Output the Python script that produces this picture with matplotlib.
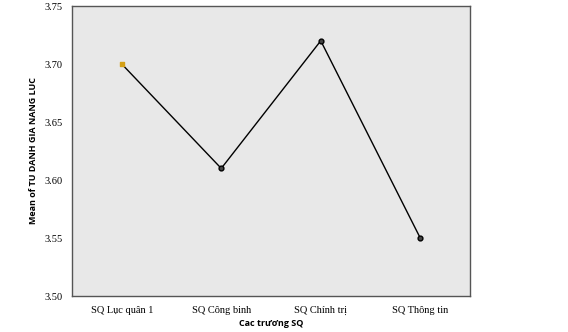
import matplotlib
matplotlib.use("Agg")
import matplotlib.pyplot as plt

schools = ["SQ Lục quân 1", "SQ Công binh", "SQ Chính trị", "SQ Thông tin"]
means = [3.70, 3.61, 3.72, 3.55]
y_ticks = [3.50, 3.55, 3.60, 3.65, 3.70, 3.75]

fig = plt.figure(figsize=(5.68, 3.32), dpi=100)
ax = fig.add_axes([72 / 568, 1 - 296 / 332, 398 / 568, 290 / 332])
ax.set_facecolor("#e8e8e8")

x = list(range(len(schools)))
ax.plot(x, means, color="black", linewidth=1.0, zorder=2)
ax.scatter(x[1:], means[1:], s=12, facecolor="#444444", edgecolor="black",
           linewidth=1.0, zorder=3)
ax.scatter(x[:1], means[:1], s=9, facecolor="#d4a017", edgecolor="#d4a017",
           marker="s", zorder=3)

ax.set_xlim(-0.5, 3.5)
ax.set_ylim(3.50, 3.75)
ax.set_xticks(x)
ax.set_xticklabels(schools, family="Liberation Serif", fontsize=7.5)
ax.set_yticks(y_ticks)
ax.set_yticklabels([f"{v:.2f}" for v in y_ticks], family="Liberation Serif",
                   fontsize=7.5)
ax.tick_params(length=0, pad=7)

for side in ax.spines.values():
    side.set_color("#555555")
    side.set_linewidth(1.0)

ax.set_xlabel("Cac trương SQ", family="Open Sans", fontweight="bold",
              fontsize=6.5, labelpad=3)
ax.set_ylabel("Mean of TU DANH GIA NANG LUC", family="Open Sans",
              fontweight="bold", fontsize=6.5, labelpad=4)

fig.savefig("out.png", dpi=100, facecolor="white")
